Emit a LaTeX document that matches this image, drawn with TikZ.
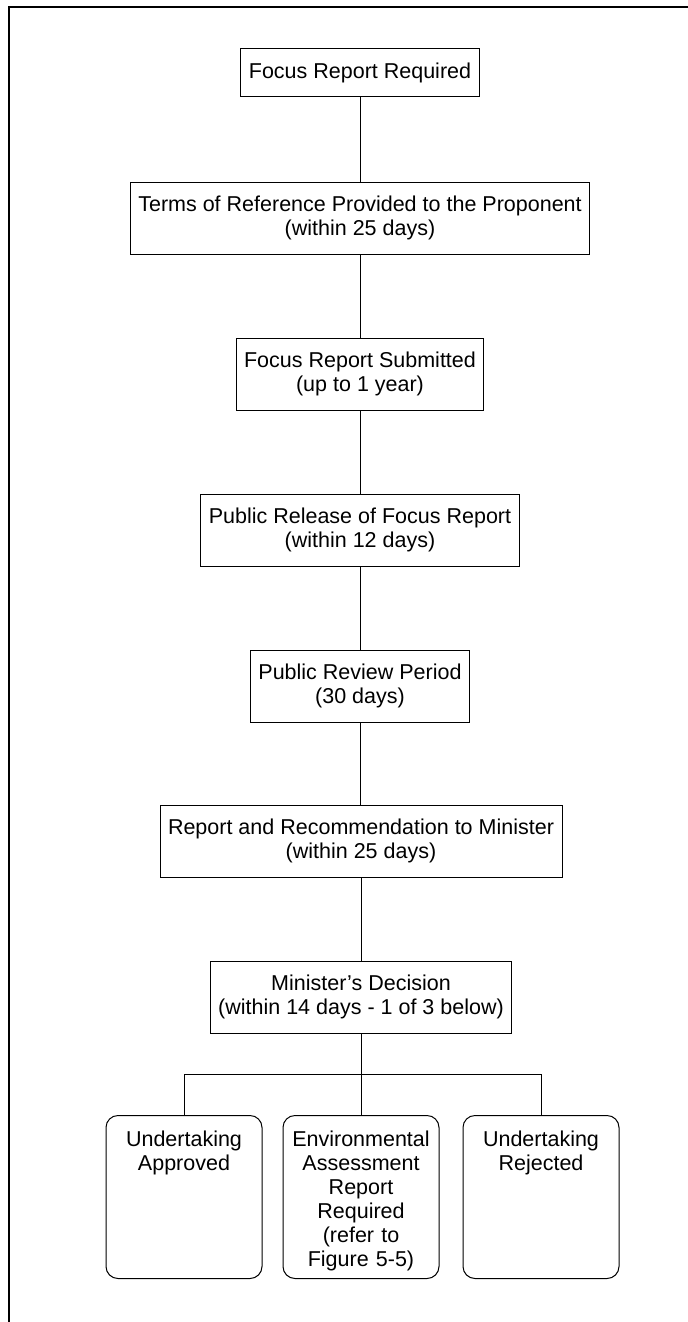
\documentclass[tikz,border=0pt]{standalone}
\usepackage{fontspec}
\setmainfont{Liberation Sans}
\begin{document}
\begin{tikzpicture}[x=0.5pt,y=-0.5pt,
    stepbox/.style={draw,line width=0.5pt,inner xsep=4pt,align=center,
      minimum height=36pt,font=\fontsize{10.75}{12}\selectfont},
    endbox/.style={draw,line width=0.5pt,rounded corners=6pt,text width=70pt,
      align=center,inner xsep=4pt,inner ysep=3pt,text height=12.5pt,text depth=63pt,
      font=\fontsize{10.75}{12}\selectfont},
    link/.style={line width=0.5pt}]
        \useasboundingbox (0,0) rectangle (688,1322);
        \draw[line width=0.75pt] (9,1322) -- (9,7) -- (688,7);
      \node[stepbox,minimum height=24pt] (frr) at (360,73) {Focus Report Required};
      \node[stepbox] (tor) at (360,218) {Terms of Reference Provided to the Proponent\\(within 25 days)};
      \node[stepbox] (sub) at (360,374) {Focus Report Submitted\\(up to 1 year)};
      \node[stepbox] (rel) at (360,530) {Public Release of Focus Report\\(within 12 days)};
      \node[stepbox] (rev) at (360,686) {Public Review Period\\(30 days)};
      \node[stepbox] (rec) at (361,841) {Report and Recommendation to Minister\\(within 25 days)};
      \node[stepbox] (dec) at (361,997) {Minister's Decision\\(within 14 days - 1 of 3 below)};
      \node[endbox] (appr) at (184,1197) {Undertaking\\Approved};
      \node[endbox] (ear) at (361,1197) {Environmental\\Assessment\\Report\\Required\\(refer to\\Figure 5-5)};
      \node[endbox] (rej) at (541,1197) {Undertaking\\Rejected};
      \coordinate (bus) at (361,1074);

      \draw[link] (frr) -- (tor);
      \draw[link] (tor) -- (sub);
      \draw[link] (sub) -- (rel);
      \draw[link] (rel) -- (rev);
      \draw[link] (rev.south) -- (rec.north -| rev.south);
      \draw[link] (rec) -- (dec);
      \draw[link] (dec) -- (bus);
      \draw[link] (appr.north) |- (bus) -| (rej.north);
      \draw[link] (bus) -- (ear);

      \end{tikzpicture}
\end{document}
